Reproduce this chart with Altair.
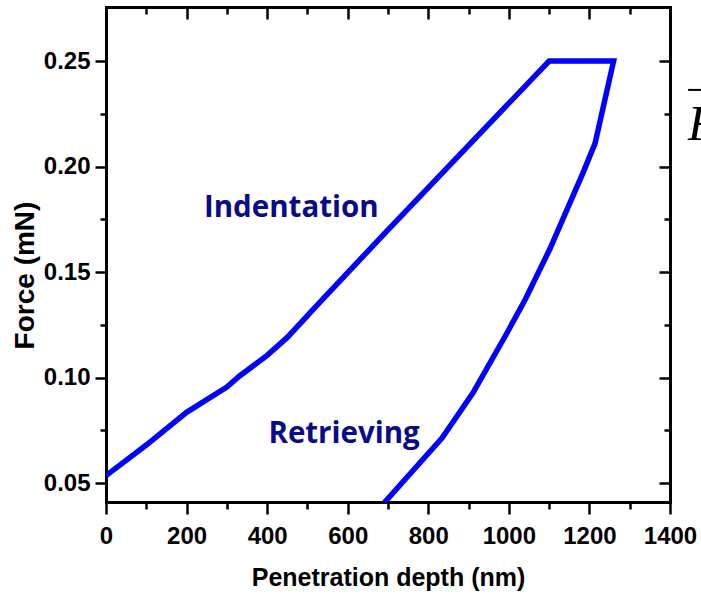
import altair as alt
import pandas as pd

# ---- data ----
load_depth = [0, 100, 200, 300, 330, 400, 450, 530, 700, 1100]
load_force = [0.0535, 0.068, 0.0835, 0.0955, 0.1005, 0.1105, 0.119, 0.1355, 0.170, 0.25]
hold_depth = [1260]
hold_force = [0.25]
unload_depth = [1214, 1184, 1102, 1040, 995, 911, 834, 690]
unload_force = [0.211, 0.197, 0.161, 0.1367, 0.121, 0.0927, 0.0713, 0.0405]

label_text = ["Indentation", "Retrieving"]
label_depth = [460, 591]
label_force = [0.176, 0.069]

edge_text = ["F"]
edge_depth = [1444]
edge_force = [0.2126]
bar_depth = [1445]
bar_depth2 = [1520]
bar_force = [0.2363]

x_ticks = list(range(0, 1401, 100))
y_ticks = [0.05, 0.075, 0.10, 0.125, 0.15, 0.175, 0.20, 0.225, 0.25]

depths = load_depth + hold_depth + unload_depth
forces = load_force + hold_force + unload_force
curve = pd.DataFrame({"depth": depths, "force": forces, "order": list(range(len(depths)))})
labels = pd.DataFrame({"text": label_text, "depth": label_depth, "force": label_force})
edge = pd.DataFrame({"text": edge_text, "depth": edge_depth, "force": edge_force})
bar = pd.DataFrame({"depth": bar_depth, "depth2": bar_depth2, "force": bar_force})

W, H = 564, 495
FONT = "Liberation Sans"

xscale = alt.Scale(domain=[0, 1400], nice=False)
yscale = alt.Scale(domain=[0.041, 0.2756], nice=False, zero=False)

x_major = "datum.value % 200 === 0"
y_major = "round(datum.value * 1000) % 50 === 0"

common = dict(
    domainColor="black", domainWidth=3, domainCap="square",
    tickColor="black", tickWidth=2.5, grid=False,
    labelColor="black", labelFont=FONT, labelFontSize=24, labelFontWeight="bold",
    titleColor="black", titleFont=FONT, titleFontWeight="bold",
)

x_bottom = alt.Axis(
    orient="bottom", values=x_ticks, title="Penetration depth (nm)", format="d",
    labelExpr=f"{x_major} ? datum.label : ''",
    tickSize={"condition": {"test": x_major, "value": 12}, "value": 7},
    labelPadding=10, labelFlush=False, labelOverlap=False,
    titleFontSize=25, titleY=83, titleBaseline="alphabetic", **common,
)
y_left = alt.Axis(
    orient="left", values=y_ticks, title="Force (mN)", format=".2f",
    labelExpr=f"{y_major} ? datum.label : ''",
    tickSize={"condition": {"test": y_major, "value": 11}, "value": 6},
    labelPadding=5, labelFlush=False, labelOverlap=False,
    titleFontSize=28, titleX=-73, titleY=268, titleAngle=-90,
    titleBaseline="alphabetic", titleAlign="center", **common,
)
x_top = alt.Axis(
    orient="bottom", offset=-H, values=x_ticks, labels=False, title=None,
    tickSize={"condition": {"test": x_major, "value": 12}, "value": 7},
    **common,
)
y_right = alt.Axis(
    orient="left", offset=-W, values=y_ticks, labels=False, title=None,
    tickSize={"condition": {"test": y_major, "value": 11}, "value": 6},
    **common,
)

line = alt.Chart(curve).mark_line(color="#0000ff", strokeWidth=5.5, clip=True).encode(
    x=alt.X("depth:Q", scale=xscale, axis=x_bottom),
    y=alt.Y("force:Q", scale=yscale, axis=y_left),
    order="order:Q",
)

frame = alt.Chart(curve).mark_point(opacity=0).encode(
    x=alt.X("depth:Q", scale=xscale, axis=x_top),
    y=alt.Y("force:Q", scale=yscale, axis=y_right),
)

text = alt.Chart(labels).mark_text(
    font="Open Sans", fontSize=29.5, fontWeight="bold", color="#0a0a8c",
    align="center", baseline="alphabetic",
).encode(
    x=alt.X("depth:Q", scale=xscale, axis=None),
    y=alt.Y("force:Q", scale=yscale, axis=None),
    text="text:N",
)

edge_letter = alt.Chart(edge).mark_text(
    font="Liberation Serif", fontSize=50, fontStyle="italic", color="black",
    align="left", baseline="alphabetic", clip=False,
).encode(
    x=alt.X("depth:Q", scale=xscale, axis=None),
    y=alt.Y("force:Q", scale=yscale, axis=None),
    text="text:N",
)

edge_bar = alt.Chart(bar).mark_rule(color="black", strokeWidth=2, clip=False).encode(
    x=alt.X("depth:Q", scale=xscale, axis=None),
    x2="depth2:Q",
    y=alt.Y("force:Q", scale=yscale, axis=None),
)

chart = alt.layer(line, frame, text, edge_letter, edge_bar).resolve_axis(
    x="independent", y="independent"
).properties(
    width=W, height=H, autosize="none",
    padding={"left": 106, "top": 7, "right": 31, "bottom": 97},
    background="white",
).configure_view(stroke=None)

chart.save("out.html", embed_options={"renderer": "svg", "actions": False})
